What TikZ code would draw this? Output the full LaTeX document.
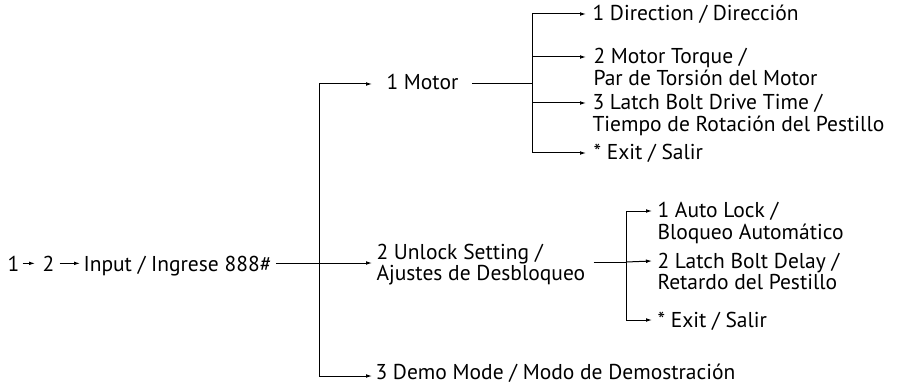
\documentclass[tikz,border=0pt]{standalone}
\usepackage{fontspec}
\setmainfont{PT Sans}
\usetikzlibrary{arrows.meta}
\begin{document}
\begin{tikzpicture}[x=1pt, y=-1pt, line width=1pt, every node/.style={anchor=base west, inner sep=0pt, align=left, font=\fontsize{21.5}{21.5}\selectfont}, arr/.style={-{Latex[length=6pt,width=3.8pt]}}]
                    \useasboundingbox (0,0) rectangle (900,385);
                    \node (n1) at (7,271) {1};
                    \node (n2) at (42,271) {2};
                    \node (input) at (83,271) {Input / Ingrese 888\#};
                    \node (motor) at (386,90) {1 Motor};
                    \node (unlock) at (376,280.5) {2 Unlock Setting /\\Ajustes de Desbloqueo};
                    \node (demo) at (375,379) {3 Demo Mode / Modo de Demostración};
                    \node (dir) at (592,21) {1 Direction / Dirección};
                    \node (torque) at (593,85.5) {2 Motor Torque /\\Par de Torsión del Motor};
                    \node (drive) at (592,131.5) {3 Latch Bolt Drive Time /\\Tiempo de Rotación del Pestillo};
                    \node (mexit) at (593,160) {* Exit / Salir};
                    \node (autolock) at (657,239.5) {1 Auto Lock /\\Bloqueo Automático};
                    \node (delay) at (657,289.5) {2 Latch Bolt Delay /\\Retardo del Pestillo};
                    \node (uexit) at (657,327) {* Exit / Salir};
                    \coordinate (j0) at (319,263);
                    \coordinate (j1) at (532,84);
                    \coordinate (j2) at (626,262);
                    \draw[arr, shorten <=3pt] (n1) -- ([xshift=-7pt]n1 -| n2.west);
                    \draw[arr, shorten <=5pt] (n2) -- ([xshift=-3pt]n2 -| input.west);
                    \draw[shorten <=4pt] (input.east |- j0) -- (j0);
                    \draw[arr] (j0) |- ([xshift=-14pt,yshift=6pt]motor.base west); \draw[arr] (j0) -- ([xshift=-4pt,yshift=17.5pt]unlock.base west); \draw[arr] (j0) |- ([xshift=-3pt,yshift=3pt]demo.base west);
                    \draw[shorten <=13pt] (motor.east |- j1) -- (j1);
                    \draw[arr] (j1) |- ([xshift=-6pt,yshift=7pt]dir.base west); \draw[arr] (j1) |- ([xshift=-7pt,yshift=28.5pt]torque.base west); \draw[arr] (j1) |- ([xshift=-6pt,yshift=28.5pt]drive.base west); \draw[arr] (j1) |- ([xshift=-7pt,yshift=7pt]mexit.base west);
                    \draw[shorten <=8pt] (unlock.east |- j2) -- (j2);
                    \draw[arr] (j2) |- ([xshift=-5pt,yshift=28.5pt]autolock.base west); \draw[arr] (j2) -- ([xshift=-5pt,yshift=28.5pt]delay.base west); \draw[arr] (j2) |- ([xshift=-5pt,yshift=7pt]uexit.base west);
                \end{tikzpicture}
\end{document}
